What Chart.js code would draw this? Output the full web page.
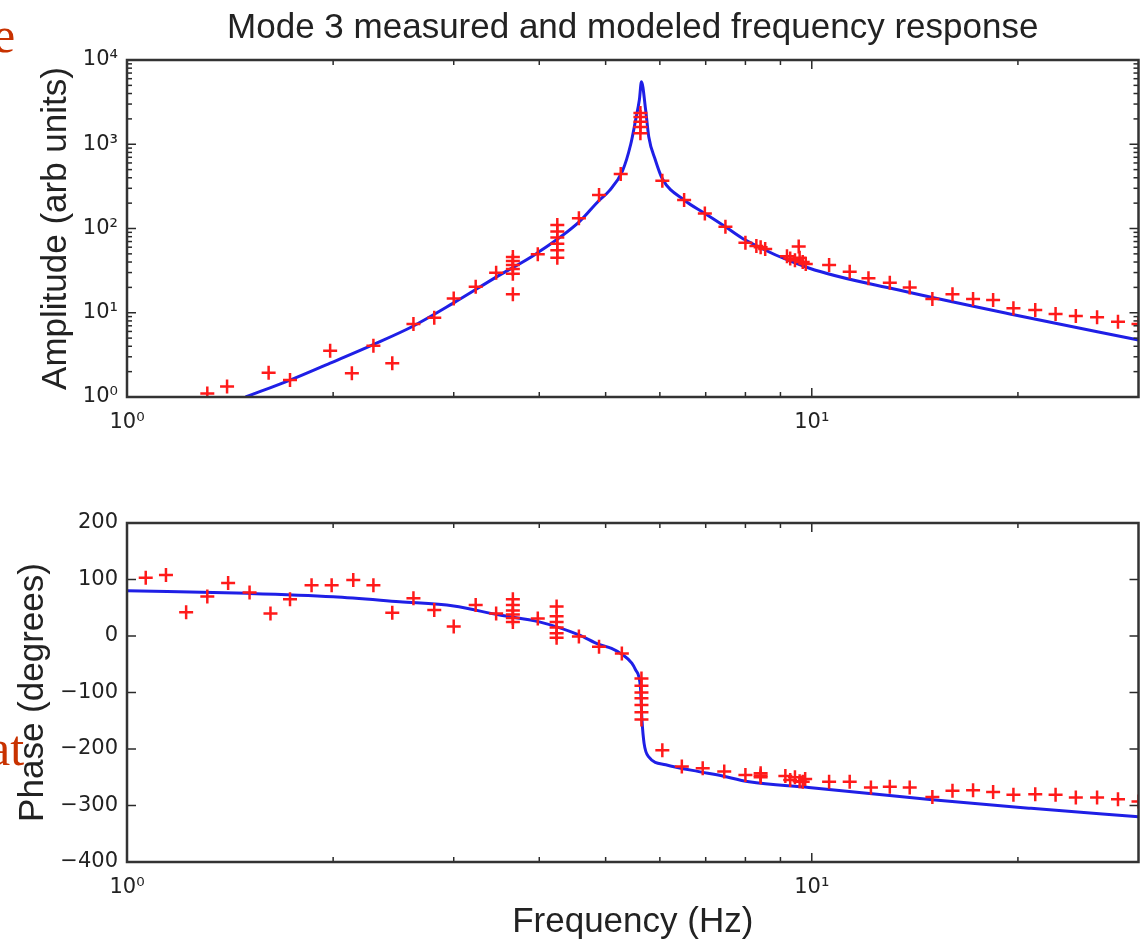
<!DOCTYPE html>
<html>
<head>
<meta charset="utf-8">
<title>Mode 3 measured and modeled frequency response</title>
<script src="https://cdn.jsdelivr.net/npm/chart.js@4.4.1/dist/chart.umd.min.js"></script>
<style>
  html, body { margin: 0; padding: 0; background: #fff; }
  body { width: 1148px; height: 944px; position: relative; overflow: hidden; }
  canvas { position: absolute; left: 0; }
  #ampChart { top: 0; }
  #phaseChart { top: 470px; }
  .slide { position: absolute; font-family: 'Liberation Serif', 'Times New Roman', serif;
           font-size: 50px; line-height: 50px; color: #c83200; }
</style>
</head>
<body>
<div class="slide" style="left:-7px; top:10px;">e</div>
<div class="slide" style="left:-12px; top:723px;">at</div>
<canvas id="ampChart" width="1148" height="470"></canvas>
<canvas id="phaseChart" width="1148" height="474"></canvas>
<script>
// measured amplitude (red crosses)
const ampMeasFreq = [1.31, 1.40, 1.61, 1.73, 1.98, 2.13, 2.29, 2.44, 2.62, 2.81, 3.0, 3.23, 3.46,
  3.66, 3.66, 3.66, 3.66, 3.66, 3.66, 3.98, 4.25, 4.25, 4.25, 4.25, 4.25, 4.25, 4.57, 4.89, 5.26,
  5.62, 5.62, 5.62, 5.62, 5.62, 6.05, 6.51, 6.98, 7.48, 8.0, 8.3, 8.42, 8.55,
  9.2, 9.3, 9.45, 9.57, 9.6, 9.7, 9.8, 10.6, 11.36, 12.1, 13.0, 13.9, 15.0, 16.05, 17.2, 18.4,
  19.7, 21.2, 22.7, 24.3, 26.1, 28.0, 30.0];
const ampMeas = [1.1, 1.33, 1.94, 1.59, 3.55, 1.91, 4.06, 2.51, 7.35, 8.73, 14.8, 20.4, 29.9,
  29, 33, 37, 41, 46, 16.6, 49.4, 45, 55, 66, 78, 92, 110, 132, 250, 443,
  1350, 1600, 1850, 2100, 2350, 369, 218, 151, 105, 67.6, 62, 60, 57,
  47, 44, 42, 61, 45, 40, 38, 36.9, 30.7, 25.6, 22.7, 20, 14.6, 16.6, 14.6, 14.2,
  11.3, 10.8, 9.67, 9.15, 8.83, 7.83, 7.35];

// modeled amplitude (blue line)
const ampModelFreq = [1.49, 1.73, 1.98, 2.28, 2.62, 3.0, 3.46, 3.97, 4.57, 4.89, 5.06, 5.29, 5.44,
  5.53, 5.6, 5.64, 5.72, 5.78, 5.91, 6.05, 6.51, 6.98, 7.48, 8.0, 9.9, 13.4, 19.8, 30];
const ampModel = [1.0, 1.59, 2.53, 4.14, 6.97, 13.1, 26.5, 51, 119, 215, 280, 480, 1000,
  1940, 3350, 5520, 2550, 1230, 650, 390, 218, 151, 105, 73, 34, 18.6, 9.4, 4.75];

// measured phase (red crosses)
const phaseMeasFreq = [1.065, 1.14, 1.22, 1.31, 1.405, 1.51, 1.62, 1.73, 1.86, 1.99, 2.14, 2.29, 2.44,
  2.62, 2.81, 3.0, 3.23, 3.46, 3.66, 3.66, 3.66, 3.66, 3.66, 3.66, 3.98,
  4.24, 4.24, 4.24, 4.24, 4.24, 4.24, 4.57, 4.89, 5.28,
  5.64, 5.64, 5.64, 5.64, 5.64, 5.64, 5.64, 6.05, 6.46, 6.93, 7.45, 8.0, 8.42, 8.42, 8.42,
  9.15, 9.3, 9.45, 9.6, 9.7, 9.78, 10.6, 11.36, 12.2, 13.0, 13.9, 15.0, 16.05, 17.2, 18.4,
  19.7, 21.2, 22.7, 24.3, 26.1, 28.0, 30.0];
const phaseMeas = [103, 108, 42, 70, 94, 77, 40, 65, 90, 90, 99, 90, 41,
  67, 46, 17, 55, 40, 65, 55, 45, 38, 32, 25, 31,
  52, 35, 25, 15, 5, -3, -1, -19, -31,
  -75, -88, -100, -110, -122, -135, -148, -202, -231, -234, -240, -246, -243, -250, -247,
  -248, -255, -250, -257, -258, -253, -258, -258, -268, -267, -268, -285, -274, -273, -276,
  -281, -280, -281, -286, -286, -289, -293];

// modeled phase (blue line)
const phaseModelFreq = [1.0, 1.5, 2.0, 2.5, 3.0, 3.5, 4.0, 4.57, 4.89, 5.1, 5.29, 5.46, 5.53,
  5.62, 5.65, 5.69, 5.78, 6.12, 6.84, 7.3, 8.1, 9.9, 15.0, 20.9, 30];
const phaseModel = [80, 75.5, 69.6, 60.7, 53, 37, 25, 2, -15, -22, -33, -48, -60,
  -90, -149, -190, -214, -228, -240, -246, -258, -268, -290, -305, -320];

// ticks
const freqTicks = [1, 10];
const freqTickLabels = ['10\u2070', '10\u00B9'];
const ampTicks = [1, 10, 100, 1000, 10000];
const ampTickLabels = ['10\u2070', '10\u00B9', '10\u00B2', '10\u00B3', '10\u2074'];
const phaseTicks = [-400, -300, -200, -100, 0, 100, 200];
const phaseTickLabels = ['\u2212400', '\u2212300', '\u2212200', '\u2212100', '0', '100', '200'];

const fontFamily = "'Liberation Sans', Arial, Helvetica, sans-serif";
const tickFamily = "'DejaVu Sans', 'Liberation Sans', sans-serif";
const textColor = '#222';
const lineBlue = '#1f1fe6';
const crossRed = '#ff1a1a';

// minor tick spots on the log axes
function logMinor(decades) {
  const out = [];
  decades.forEach(d => { for (let k = 2; k <= 9; k++) out.push(k * d); });
  return out;
}

function pts(xs, ys) {
  return xs.map((x, i) => ({ x: x, y: ys[i] }));
}

function labelFor(values, labels) {
  return v => {
    const i = values.indexOf(v);
    return i >= 0 ? labels[i] : '';
  };
}

// matlab style box with inward ticks on all four sides
const boxTicks = {
  id: 'boxTicks',
  afterDatasetsDraw(chart, args, o) {
    const { ctx, chartArea: a } = chart;
    const xs = chart.scales.x, ys = chart.scales.y;
    ctx.save();
    ctx.strokeStyle = '#2a2a2a';
    ctx.lineWidth = 1.5;
    const seg = (x1, y1, x2, y2) => { ctx.beginPath(); ctx.moveTo(x1, y1); ctx.lineTo(x2, y2); ctx.stroke(); };
    const xt = (v, len) => {
      const p = xs.getPixelForValue(v);
      seg(p, a.bottom, p, a.bottom - len);
      seg(p, a.top, p, a.top + len);
    };
    const yt = (v, len) => {
      const p = ys.getPixelForValue(v);
      seg(a.left, p, a.left + len, p);
      seg(a.right, p, a.right - len, p);
    };
    o.xMajor.forEach(v => xt(v, 9));
    o.xMinor.forEach(v => xt(v, 5));
    o.yMajor.forEach(v => yt(v, 9));
    o.yMinor.forEach(v => yt(v, 5));
    ctx.lineWidth = 2.5;
    ctx.strokeStyle = '#333';
    ctx.strokeRect(a.left, a.top, a.right - a.left, a.bottom - a.top);
    ctx.restore();
  }
};

function freqAxis(height, title) {
  return {
    type: 'logarithmic',
    position: 'bottom',
    min: 1,
    max: 30,
    grid: { display: false, drawTicks: false },
    border: { display: false },
    afterBuildTicks: s => { s.ticks = freqTicks.map(v => ({ value: v })); },
    afterFit: s => { s.height = height; },
    ticks: {
      autoSkip: false, maxRotation: 0, padding: 13, color: textColor,
      font: { family: tickFamily, size: 21 },
      callback: labelFor(freqTicks, freqTickLabels)
    },
    title: title
  };
}

const measStyle = {
  pointStyle: 'cross',
  pointRadius: 7,
  pointBorderWidth: 2.5,
  borderColor: crossRed,
  backgroundColor: crossRed,
  showLine: false,
  order: 1
};

const modelStyle = {
  type: 'line',
  borderColor: lineBlue,
  borderWidth: 3,
  pointRadius: 0,
  fill: false,
  cubicInterpolationMode: 'monotone',
  order: 2
};

new Chart(document.getElementById('ampChart'), {
  type: 'scatter',
  data: {
    datasets: [
      Object.assign({ label: 'model', data: pts(ampModelFreq, ampModel) }, modelStyle),
      Object.assign({ label: 'measured', data: pts(ampMeasFreq, ampMeas) }, measStyle)
    ]
  },
  options: {
    responsive: false,
    animation: false,
    layout: { padding: { left: 0, right: 9, top: 0, bottom: 0 } },
    scales: {
      x: freqAxis(73, { display: false }),
      y: {
        type: 'logarithmic',
        min: 1,
        max: 10000,
        grid: { display: false, drawTicks: false },
        border: { display: false },
        afterBuildTicks: s => { s.ticks = ampTicks.map(v => ({ value: v })); },
        afterFit: s => { s.width = 127; },
        ticks: {
          autoSkip: false, padding: 9, color: textColor,
          font: { family: tickFamily, size: 21 },
          callback: labelFor(ampTicks, ampTickLabels)
        },
        title: {
          display: true, text: 'Amplitude (arb units)', color: textColor,
          font: { family: fontFamily, size: 35 }, padding: { top: 35, bottom: 0 }
        }
      }
    },
    plugins: {
      legend: { display: false },
      tooltip: { enabled: false },
      title: {
        display: true,
        fullSize: false,
        text: 'Mode 3 measured and modeled frequency response',
        color: textColor,
        font: { family: fontFamily, size: 35, weight: 'normal' },
        padding: { top: 7, bottom: 11 }
      },
      boxTicks: {
        xMajor: freqTicks, xMinor: logMinor([1, 10]).filter(v => v < 30),
        yMajor: ampTicks, yMinor: logMinor([1, 10, 100, 1000])
      }
    }
  },
  plugins: [boxTicks]
});

new Chart(document.getElementById('phaseChart'), {
  type: 'scatter',
  data: {
    datasets: [
      Object.assign({ label: 'model', data: pts(phaseModelFreq, phaseModel) }, modelStyle),
      Object.assign({ label: 'measured', data: pts(phaseMeasFreq, phaseMeas) }, measStyle)
    ]
  },
  options: {
    responsive: false,
    animation: false,
    layout: { padding: { left: 0, right: 9, top: 53, bottom: 0 } },
    scales: {
      x: freqAxis(82, {
        display: true, text: 'Frequency (Hz)', color: textColor,
        font: { family: fontFamily, size: 35 }, padding: { top: 0, bottom: 1 }
      }),
      y: {
        type: 'linear',
        min: -400,
        max: 200,
        grid: { display: false, drawTicks: false },
        border: { display: false },
        afterBuildTicks: s => { s.ticks = phaseTicks.map(v => ({ value: v })); },
        afterFit: s => { s.width = 127; },
        ticks: {
          autoSkip: false, padding: 9, color: textColor,
          font: { family: tickFamily, size: 21 },
          callback: labelFor(phaseTicks, phaseTickLabels)
        },
        title: {
          display: true, text: 'Phase (degrees)', color: textColor,
          font: { family: fontFamily, size: 35 }, padding: { top: 12, bottom: 0 }
        }
      }
    },
    plugins: {
      legend: { display: false },
      tooltip: { enabled: false },
      boxTicks: {
        xMajor: freqTicks, xMinor: logMinor([1, 10]).filter(v => v < 30),
        yMajor: phaseTicks, yMinor: []
      }
    }
  },
  plugins: [boxTicks]
});
</script>
</body>
</html>
